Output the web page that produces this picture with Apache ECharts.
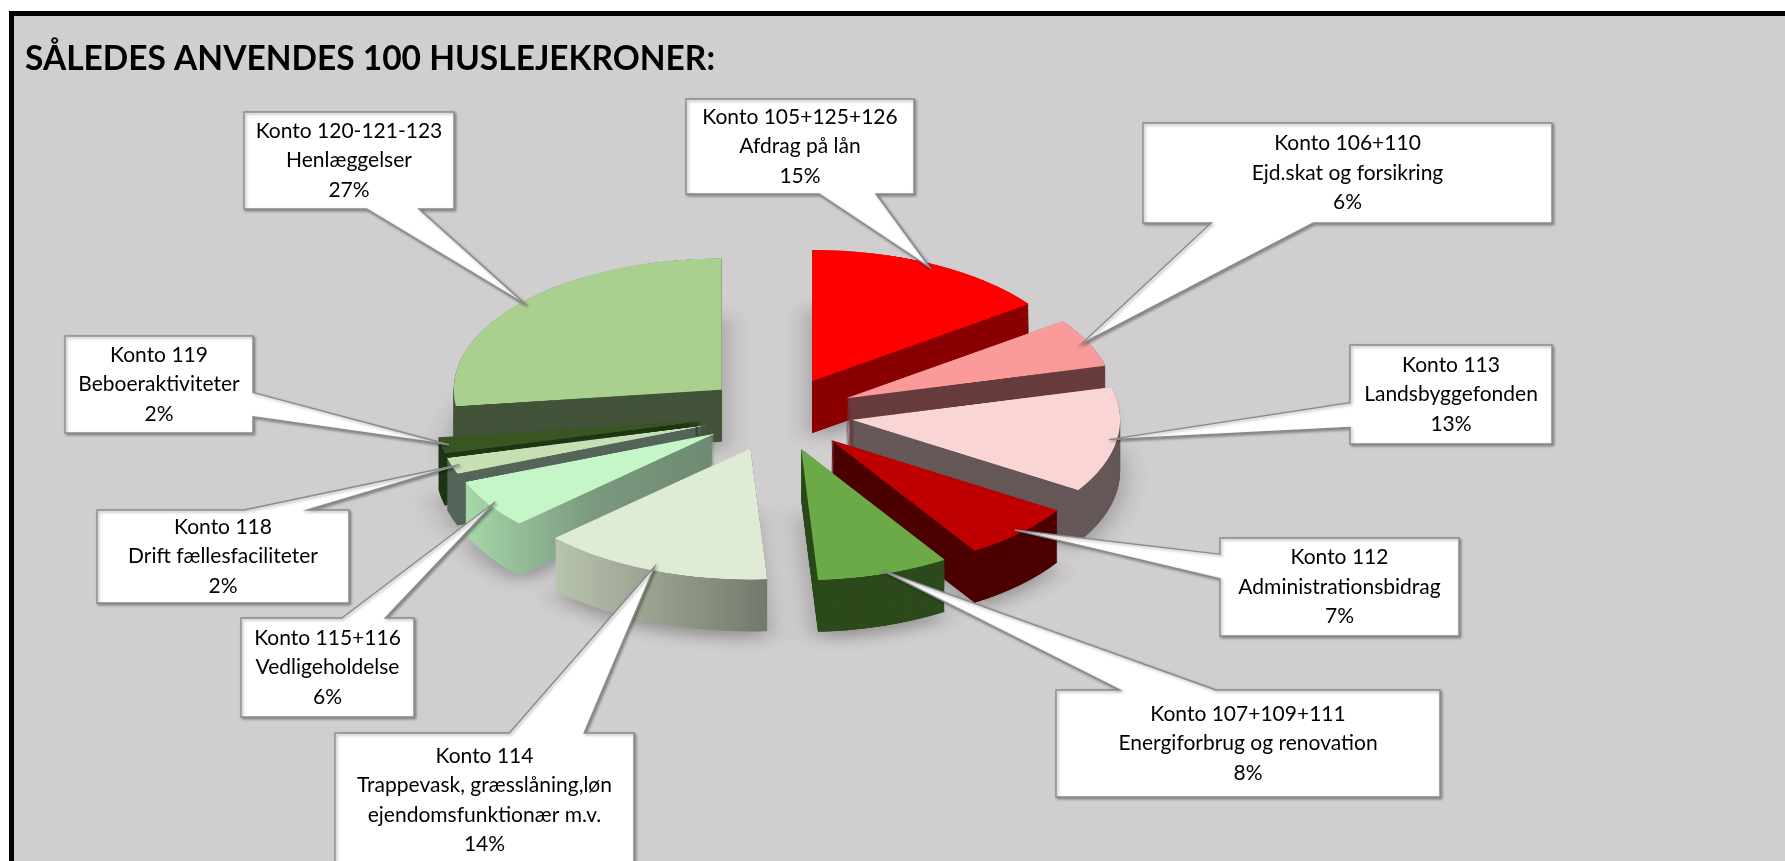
<!DOCTYPE html>
<html>
<head>
<meta charset="utf-8">
<script src="https://cdn.jsdelivr.net/npm/echarts@6/dist/echarts.min.js"></script>
<style>
html,body{margin:0;padding:0;width:1785px;height:861px;overflow:hidden;background:#fff}
.layer{position:absolute;left:0;top:0;width:1785px;}
#bg,#callouts{height:861px}
</style>
</head>
<body>
<div id="bg" class="layer"></div>
<div id="pie" class="layer"></div>
<div id="callouts" class="layer"></div>
<script>
// ---------------- DATA ----------------
const chartTitle = 'SÅLEDES ANVENDES 100 HUSLEJEKRONER:';
const accounts = ['Konto 105+125+126','Konto 106+110','Konto 113','Konto 112','Konto 107+109+111','Konto 114','Konto 115+116','Konto 118','Konto 119','Konto 120-121-123'];
const descriptions = ['Afdrag på lån','Ejd.skat og forsikring','Landsbyggefonden','Administrationsbidrag','Energiforbrug og renovation','Trappevask, græsslåning,løn\nejendomsfunktionær m.v.','Vedligeholdelse','Drift fællesfaciliteter','Beboeraktiviteter','Henlæggelser'];
const shares = [15, 6, 13, 7, 8, 14, 6, 2, 2, 27];

// ---------------- STYLE / LAYOUT ----------------
const topColors  = ['#FF0000','#FB9A9A','#FAD5D5','#C00000','#6BAA47','#E0EBD6','#C4F6C8','#C6E0B4','#375623','#A9D08E'];
const sideColors = ['#8A0000','#683C3D','#665858','#4C0000','#2D4A1C',
  {type:'linear',x:0,y:0,x2:1,y2:0,colorStops:[{offset:0,color:'#B9C4AE'},{offset:1,color:'#737A6D'}]},
  {type:'linear',x:0,y:0,x2:1,y2:0,colorStops:[{offset:0,color:'#A6D8A9'},{offset:0.5,color:'#7C9A7F'},{offset:1,color:'#6E8A71'}]},
  '#56655A','#1F3614','#435339'];
// callout boxes: [left, top, width, height]
const calloutBoxes = [
  [686, 99, 228, 95],
  [1143, 123, 409, 100],
  [1350, 345, 202, 99],
  [1220, 538, 239, 98],
  [1056, 690, 384, 107],
  [335, 733, 299, 134],
  [241, 618, 173, 99],
  [97, 510, 252, 93],
  [65, 336, 188, 97],
  [244, 112, 210, 97]
];
const TILT = 0.49;        // vertical squash of the pie plane
const PIE_CX = 778;       // screen px
const PIE_CY = 414;       // screen px (top surface centre)
const PIE_R = 268;        // px in pie plane
const EXPLODE = 75;       // px in pie plane
const DEPTH = 52;         // screen px
const LAYER_STEP = 2;     // px in pie plane

// ---------------- BACKGROUND + TITLE ----------------
const bg = echarts.init(document.getElementById('bg'));
bg.setOption({
  backgroundColor: '#ffffff',
  animation: false,
  title: {
    text: chartTitle, left: 25, top: 42, padding: 0,
    textStyle: {fontFamily: 'Lato', fontWeight: 'bold', fontSize: 33.5, color: '#000'}
  },
  graphic: [{
    type: 'rect', z: -10, silent: true,
    shape: {x: 11.5, y: 13.5, width: 1820, height: 900},
    style: {fill: '#D0CECF', stroke: '#000', lineWidth: 5}
  }]
});

// ---------------- PIE (tilted plane) ----------------
const pieDiv = document.getElementById('pie');
const planeH = Math.ceil(861 / TILT);
pieDiv.style.height = planeH + 'px';
pieDiv.style.transformOrigin = '0 0';
pieDiv.style.transform = 'scaleY(' + TILT + ')';
const pieChart = echarts.init(pieDiv);
const cyPlane = PIE_CY / TILT;
const depthPlane = DEPTH / TILT;

function pieSeries(colors, dy, itemStyleExtra) {
  return {
    type: 'pie',
    center: [PIE_CX, cyPlane + dy],
    radius: PIE_R,
    startAngle: 90,
    clockwise: true,
    selectedMode: 'multiple',
    selectedOffset: EXPLODE,
    silent: true,
    animation: false,
    avoidLabelOverlap: false,
    label: {show: false},
    labelLine: {show: false},
    emphasis: {disabled: true},
    itemStyle: Object.assign({borderWidth: 0}, itemStyleExtra || {}),
    data: shares.map((v, i) => ({
      value: v, name: accounts[i], selected: true,
      itemStyle: {color: colors[i]}
    }))
  };
}
const pieSeriesList = [];
let first = true;
for (let d = depthPlane; d > 0; d -= LAYER_STEP) {
  pieSeriesList.push(pieSeries(sideColors, d, first ? {shadowBlur: 30, shadowColor: 'rgba(0,0,0,0.3)', shadowOffsetY: 14} : null));
  first = false;
}
pieSeriesList.push(pieSeries(topColors, 0));
pieChart.setOption({animation: false, series: pieSeriesList});

// anchor points of callouts
function sliceAnchors() {
  const topIndex = pieSeriesList.length - 1;
  try {
    const data = pieChart.getModel().getSeriesByIndex(topIndex).getData();
    return shares.map((_, i) => {
      const l = data.getItemLayout(i);
      const mid = (l.startAngle + l.endAngle) / 2;
      const rr = l.r * 0.97 + EXPLODE;
      return [l.cx + Math.cos(mid) * rr, (l.cy + Math.sin(mid) * rr) * TILT];
    });
  } catch (e) {
    const total = shares.reduce((a, b) => a + b, 0);
    let acc = 0;
    return shares.map(v => {
      const mid = -Math.PI / 2 + (acc + v / 2) / total * Math.PI * 2;
      acc += v;
      const rr = PIE_R * 0.97 + EXPLODE;
      return [PIE_CX + Math.cos(mid) * rr, (cyPlane + Math.sin(mid) * rr) * TILT];
    });
  }
}

function calloutPoints(b, tip) {
  const [x, y, w, h] = b;
  const cx = x + w / 2, cy = y + h / 2;
  const dx = (tip[0] - cx) / w, dy = (tip[1] - cy) / h;
  if (Math.abs(dy) >= Math.abs(dx)) {
    const a = dx < 0 ? x + w / 6 : x + 7 * w / 12;
    const c = dx < 0 ? x + 5 * w / 12 : x + 5 * w / 6;
    if (dy < 0) return [[x, y], [a, y], tip, [c, y], [x + w, y], [x + w, y + h], [x, y + h]];
    return [[x, y], [x + w, y], [x + w, y + h], [c, y + h], tip, [a, y + h], [x, y + h]];
  } else {
    const a = dy < 0 ? y + h / 6 : y + 7 * h / 12;
    const c = dy < 0 ? y + 5 * h / 12 : y + 5 * h / 6;
    if (dx < 0) return [[x, y], [x + w, y], [x + w, y + h], [x, y + h], [x, c], tip, [x, a]];
    return [[x, y], [x + w, y], [x + w, a], tip, [x + w, c], [x + w, y + h], [x, y + h]];
  }
}

// ---------------- CALLOUTS ----------------
const anchors = sliceAnchors();
const calloutChart = echarts.init(document.getElementById('callouts'));
const elements = [];
shares.forEach((v, i) => {
  const b = calloutBoxes[i];
  elements.push({
    type: 'polygon', silent: true,
    shape: {points: calloutPoints(b, anchors[i])},
    style: {fill: '#ffffff', stroke: '#8A8A8A', lineWidth: 1.4, lineJoin: 'miter',
      shadowBlur: 3, shadowOffsetX: 1.5, shadowOffsetY: 1.5, shadowColor: 'rgba(0,0,0,0.35)'}
  });
  elements.push({
    type: 'text', silent: true,
    x: b[0] + b[2] / 2, y: b[1] + b[3] / 2,
    style: {
      text: accounts[i] + '\n' + descriptions[i] + '\n' + v + '%',
      fill: '#000', fontFamily: 'Lato', fontSize: 21, lineHeight: 29.5,
      align: 'center', verticalAlign: 'middle',
      textAlign: 'center', textVerticalAlign: 'middle'
    }
  });
});
calloutChart.setOption({animation: false, graphic: elements});
</script>
</body>
</html>
